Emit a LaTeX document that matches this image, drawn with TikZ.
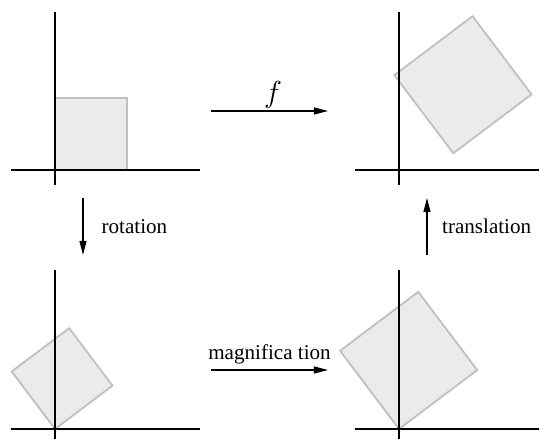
\documentclass[tikz,border=0pt]{standalone}
\usepackage{fontspec}
\setmainfont[Ligatures=NoCommon]{Liberation Serif}
\usetikzlibrary{arrows.meta,positioning}

\begin{document}
\begin{tikzpicture}[x=0.02cm,y=0.02cm,
    axis/.style={line width=1.5pt},
    patch/.style={draw=black!25,fill=black!8,line width=1pt},
    map/.style={-{Triangle[length=8pt,width=4pt]},line width=0.6pt},
    font=\fontsize{12}{14}\selectfont]
    \useasboundingbox (0,0) rectangle (539,439);

    % Original square
    \draw[patch] (55,269) rectangle (127,341);
    \draw[axis] (11,269) -- (200,269);
    \draw[axis] (55,254) -- (55,427);

    % After f
    \draw[patch,shift={(453.3,285.7)},rotate=37,scale=1.36] (0,0) rectangle (72,72);
    \draw[axis] (355,269) -- (539,269);
    \draw[axis] (399,254) -- (399,427);

    % Rotated
    \draw[patch,shift={(55,10)},rotate=37] (0,0) rectangle (72,72);
    \draw[axis] (11,10) -- (200,10);
    \draw[axis] (55,0) -- (55,169);

    % Magnified
    \draw[patch,shift={(399,10)},rotate=37,scale=1.36] (0,0) rectangle (72,72);
    \draw[axis] (355,10) -- (539,10);
    \draw[axis] (399,0) -- (399,169);

    % Arrows
    \coordinate (f-tail) at (211,328);
    \coordinate (f-head) at (328,328);
    \coordinate (rot-tail) at (83,241);
    \coordinate (rot-head) at (83,184);
    \coordinate (mag-tail) at (211,69);
    \coordinate (mag-head) at (328,69);
    \coordinate (trans-tail) at (427,184);
    \coordinate (trans-head) at (427,241);

    \draw[map] (f-tail) -- node[above,inner sep=1pt,xshift=2pt,font=\fontsize{17}{20}\selectfont] {$f$} (f-head);
    \draw[map] (rot-tail) -- node[right=7pt] {rotation} (rot-head);
    \draw[map] (mag-tail) -- node[above] {magnifica tion} (mag-head);
    \draw[map] (trans-tail) -- node[right=5pt] {translation} (trans-head);
\end{tikzpicture}
\end{document}
